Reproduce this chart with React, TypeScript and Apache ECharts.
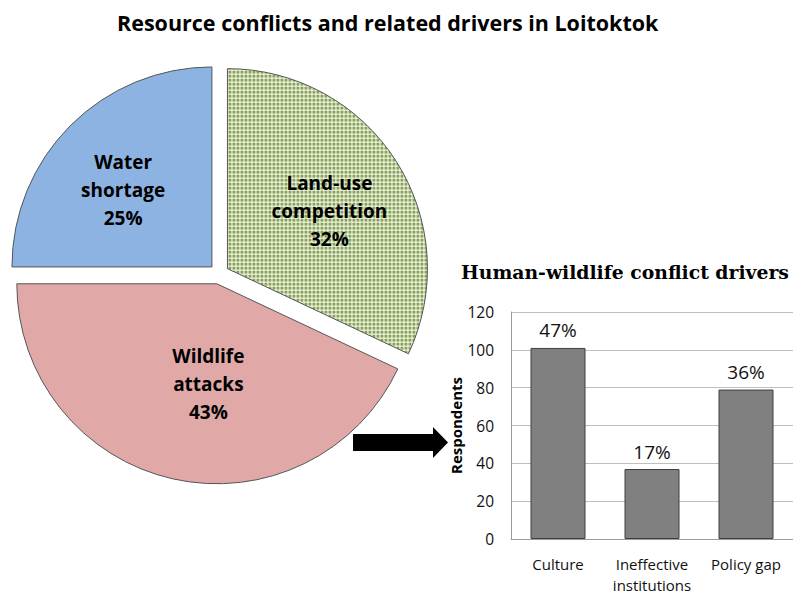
import React, { useEffect, useRef } from "react";
import * as echarts from "echarts";

const pieNames = ["Land-use\ncompetition", "Wildlife\nattacks", "Water\nshortage"];
const pieValues = [32, 43, 25];
const barCategories = ["Culture", "Ineffective\ninstitutions", "Policy gap"];
const barValues = [101, 37, 79];
const barPercents = ["47%", "17%", "36%"];
const yTicks = { min: 0, max: 120, interval: 20 };

const labelNudge = [
  [15, -2],
  [14, 0],
  [-16, -4],
];

function makePattern(): HTMLCanvasElement {
  const c = document.createElement("canvas");
  c.width = 4;
  c.height = 4;
  const ctx = c.getContext("2d")!;
  ctx.fillStyle = "#ffffff";
  ctx.fillRect(0, 0, 4, 4);
  ctx.fillStyle = "#88A352";
  ctx.fillRect(0, 0, 3, 3);
  return c;
}

export default function App() {
  const ref = useRef<HTMLDivElement>(null);
  useEffect(() => {
    if (!ref.current) return;
    const chart = echarts.init(ref.current, undefined, { renderer: "svg" });
    const pattern = makePattern();
    const sliceStyles: any[] = [
      { color: { image: pattern, repeat: "repeat" } },
      { color: "#E0A9A8" },
      { color: "#8DB3E2" },
    ];
    const sansFont = "'Open Sans', sans-serif";
    chart.setOption({
      animation: false,
      title: [
        {
          text: "Resource conflicts and related drivers in Loitoktok",
          left: 112,
          top: 6,
          textStyle: { fontFamily: sansFont, fontWeight: "bold", fontSize: 21.5, color: "#000" },
        },
        {
          text: "Human-wildlife conflict drivers",
          left: 456,
          top: 257,
          textStyle: { fontFamily: "'DejaVu Serif', serif", fontWeight: "bold", fontSize: 18.8, color: "#000" },
        },
      ],
      grid: { left: 511, top: 312, width: 285, height: 227 },
      xAxis: {
        type: "category",
        data: barCategories,
        axisLine: { lineStyle: { color: "#9C9C9C" } },
        axisTick: { show: false },
        axisLabel: { color: "#111", fontFamily: sansFont, fontSize: 15, margin: 14, lineHeight: 21, interval: 0 },
      },
      yAxis: {
        type: "value",
        min: yTicks.min,
        max: yTicks.max,
        interval: yTicks.interval,
        name: "Respondents",
        nameLocation: "middle",
        nameGap: 43,
        nameTextStyle: { fontFamily: sansFont, fontWeight: "bold", fontSize: 15, color: "#000" },
        axisLine: { show: true, lineStyle: { color: "#9C9C9C" } },
        axisTick: { show: false },
        splitLine: { lineStyle: { color: "#BFBFBF" } },
        axisLabel: { color: "#111", fontFamily: sansFont, fontSize: 15.5, margin: 17 },
      },
      series: [
        {
          type: "pie",
          center: [219, 274],
          radius: 200,
          startAngle: 90,
          clockwise: true,
          selectedMode: "multiple",
          selectedOffset: 10,
          avoidLabelOverlap: false,
          emphasis: { disabled: true },
          itemStyle: { borderColor: "#555", borderWidth: 1 },
          label: {
            show: true,
            position: "inside",
            formatter: "{b}\n{d}%",
            fontFamily: sansFont,
            fontWeight: "bold",
            fontSize: 19,
            lineHeight: 28,
            color: "#000",
          },
          labelLine: { show: false },
          labelLayout: (p: any) => ({ dx: labelNudge[p.dataIndex][0], dy: labelNudge[p.dataIndex][1] }),
          data: pieValues.map((v, i) => ({
            name: pieNames[i],
            value: v,
            selected: true,
            itemStyle: sliceStyles[i],
            select: { itemStyle: sliceStyles[i] },
          })),
        },
        {
          type: "bar",
          data: barValues,
          barWidth: 55,
          itemStyle: { color: "#808080", borderColor: "#3F3F3F", borderWidth: 1 },
          emphasis: { disabled: true },
          label: {
            show: true,
            position: "top",
            distance: 8,
            formatter: (p: any) => barPercents[p.dataIndex],
            fontFamily: sansFont,
            fontSize: 19,
            color: "#111",
          },
        },
      ],
      graphic: [
        {
          type: "polygon",
          shape: {
            points: [
              [353, 434],
              [433, 434],
              [433, 427],
              [448, 442.5],
              [433, 458],
              [433, 451],
              [353, 451],
            ],
          },
          style: { fill: "#000" },
        },
      ],
    });
    return () => chart.dispose();
  }, []);
  return (
    <div
      ref={ref}
      style={{ position: "absolute", left: 0, top: 0, width: 793, height: 596, background: "#fff" }}
    />
  );
}
